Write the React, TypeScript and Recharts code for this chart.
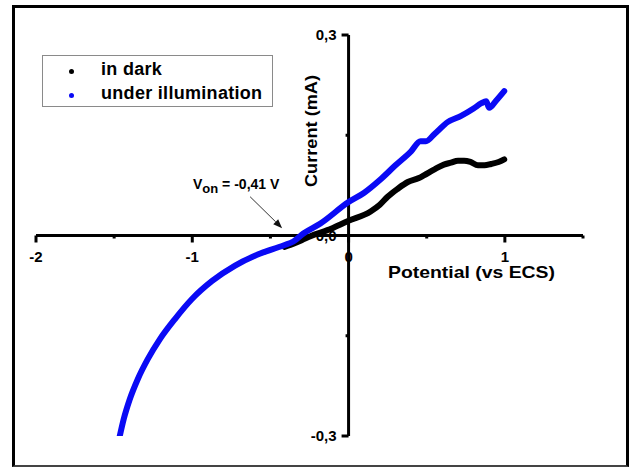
import { LineChart, Line, XAxis, YAxis, ReferenceLine, ReferenceDot, Legend } from 'recharts'

// potential (V vs ECS) and current (mA)
const darkV = [-0.41, -0.373, -0.3, -0.244, -0.135, 0, 0.141, 0.2, 0.25, 0.315, 0.379, 0.45, 0.482, 0.55, 0.61, 0.655, 0.7, 0.739, 0.78, 0.828, 0.87, 0.912, 0.96, 0.996]
const darkI = [-0.017, -0.014, -0.007, -0.001, 0.008, 0.022, 0.036, 0.046, 0.058, 0.07, 0.08, 0.086, 0.09, 0.099, 0.106, 0.109, 0.112, 0.112, 0.11, 0.105, 0.105, 0.107, 0.11, 0.114]

const lightV = [-1.464, -1.439, -1.4, -1.349, -1.285, -1.207, -1.111, -1.002, -0.873, -0.726, -0.565, -0.417, -0.353, -0.289, -0.18, 0, 0.1, 0.2, 0.3, 0.4, 0.46, 0.495, 0.55, 0.636, 0.72, 0.8, 0.85, 0.88, 0.9, 0.945, 0.996]
const lightI = [-0.3, -0.275, -0.245, -0.215, -0.185, -0.155, -0.125, -0.095, -0.068, -0.045, -0.027, -0.015, -0.009, 0.003, 0.018, 0.05, 0.064, 0.083, 0.105, 0.126, 0.141, 0.141, 0.152, 0.17, 0.179, 0.19, 0.198, 0.201, 0.191, 0.202, 0.216]

const xMajorTicks = [-2, -1, 0, 1]
const xTickLabels = ['-2', '-1', '0', '1']
const xMinorTicks = [-1.5, -0.5, 0.5, 1.5]
const yMajorTicks = [0.3, 0, -0.3]
const yTickLabels = ['0,3', '0,0', '-0,3']
const yMinorTicks = [0.15, -0.15]

// arrow pointing at the onset potential
const arrowFrom = { x: -0.63, y: 0.058 }
const arrowTo = { x: -0.425, y: 0.011 }

const darkData = darkV.map((v, k) => ({ v, i: darkI[k] }))
const lightData = lightV.map((v, k) => ({ v, i: lightI[k] }))

const FONT = 'Arial, "Liberation Sans", sans-serif'
const BLUE = '#0a0af5'

const xTick = (label: string | null, major: boolean) => (p: any) => (
  <g>
    <line x1={p.cx} y1={p.cy} x2={p.cx} y2={p.cy + (major ? 7 : 3)} stroke="#000" strokeWidth={3} />
    {label && (
      <text x={p.cx} y={p.cy + 26} textAnchor="middle" fontFamily={FONT} fontWeight="bold" fontSize={15} fill="#000">
        {label}
      </text>
    )}
  </g>
)

const yTick = (label: string | null, major: boolean) => (p: any) => (
  <g>
    <line x1={p.cx - (major ? 7 : 3)} y1={p.cy} x2={p.cx} y2={p.cy} stroke="#000" strokeWidth={3} />
    {label && (
      <text x={p.cx - 12} y={p.cy + 5} textAnchor="end" fontFamily={FONT} fontWeight="bold" fontSize={15} fill="#000">
        {label}
      </text>
    )}
  </g>
)

const Arrow = (p: any) => {
  const dx = p.x2 - p.x1
  const dy = p.y2 - p.y1
  const len = Math.sqrt(dx * dx + dy * dy)
  const ux = dx / len
  const uy = dy / len
  const bx = p.x2 - ux * 9
  const by = p.y2 - uy * 9
  return (
    <g>
      <line x1={p.x1} y1={p.y1} x2={bx} y2={by} stroke="#333" strokeWidth={1} />
      <polygon
        points={`${p.x2},${p.y2} ${bx - uy * 3.5},${by + ux * 3.5} ${bx + uy * 3.5},${by - ux * 3.5}`}
        fill="#111"
      />
    </g>
  )
}

const renderLegend = (props: any) => (
  <div
    style={{
      position: 'relative',
      width: 231,
      height: 52,
      boxSizing: 'border-box',
      border: '1px solid #8a8a8a',
      background: '#fff',
      fontFamily: FONT,
    }}
  >
    {(props.payload || []).map((e: any, k: number) => (
      <div key={e.value} style={{ position: 'absolute', left: 0, top: 3 + k * 24, height: 22 }}>
        <span style={{ position: 'absolute', left: 26, top: 10, width: 5, height: 5, borderRadius: 3, background: e.color }} />
        <span style={{ position: 'absolute', left: 58, top: 0, fontWeight: 'bold', fontSize: 18, letterSpacing: 0.3, whiteSpace: 'nowrap', color: '#000' }}>
          {e.value}
        </span>
      </div>
    ))}
  </div>
)

export default function App() {
  return (
    <div style={{ position: 'absolute', left: 0, top: 0, width: 633, height: 471, background: '#fff', fontFamily: FONT }}>
      <div
        style={{
          position: 'absolute',
          left: 12,
          top: 5,
          width: 617,
          height: 462,
          boxSizing: 'border-box',
          borderTop: '3px solid #000',
          borderLeft: '3px solid #000',
          borderRight: '3px solid #000',
          borderBottom: '2px solid #444',
        }}
      />
      <LineChart width={633} height={471} margin={{ top: 35, right: 50, bottom: 35, left: 36 }} style={{ position: 'absolute', left: 0, top: 0 }}>
        <XAxis type="number" dataKey="v" domain={[-2, 1.5]} hide allowDataOverflow />
        <YAxis type="number" dataKey="i" domain={[-0.3, 0.3]} hide allowDataOverflow />
        <ReferenceLine y={0} stroke="#000" strokeWidth={3} />
        <ReferenceLine x={0} stroke="#000" strokeWidth={3} />
        {xMajorTicks.map((t, k) => (
          <ReferenceDot key={'xm' + t} x={t} y={0} r={0} shape={xTick(xTickLabels[k], true)} />
        ))}
        {xMinorTicks.map((t) => (
          <ReferenceDot key={'xn' + t} x={t} y={0} r={0} shape={xTick(null, false)} />
        ))}
        {yMajorTicks.map((t, k) => (
          <ReferenceDot key={'ym' + t} x={0} y={t} r={0} shape={yTick(yTickLabels[k], true)} />
        ))}
        {yMinorTicks.map((t) => (
          <ReferenceDot key={'yn' + t} x={0} y={t} r={0} shape={yTick(null, false)} />
        ))}
        <ReferenceLine segment={[arrowFrom, arrowTo]} shape={Arrow} />
        <Line
          data={darkData}
          dataKey="i"
          name="in dark"
          type="monotone"
          stroke="#000"
          strokeWidth={6}
          strokeLinecap="round"
          dot={false}
          isAnimationActive={false}
        />
        <Line
          data={lightData}
          dataKey="i"
          name="under illumination"
          type="monotone"
          stroke={BLUE}
          strokeWidth={6}
          strokeLinecap="round"
          dot={false}
          isAnimationActive={false}
        />
        <Legend
          layout="vertical"
          align="center"
          verticalAlign="middle"
          content={renderLegend}
          wrapperStyle={{ position: 'absolute', left: 42, top: 55, width: 231, height: 52 }}
        />
      </LineChart>
      <svg width={633} height={471} style={{ position: 'absolute', left: 0, top: 0, pointerEvents: 'none' }}>
        <text x={388} y={278} fontFamily={FONT} fontWeight="bold" fontSize={17} textLength={167} lengthAdjust="spacingAndGlyphs">
          Potential (vs ECS)
        </text>
        <text
          transform="translate(317,131) rotate(-90)"
          textAnchor="middle"
          fontFamily={FONT}
          fontWeight="bold"
          fontSize={17}
          textLength={112}
          lengthAdjust="spacingAndGlyphs"
        >
          Current (mA)
        </text>
        <text x={193} y={189} fontFamily={FONT} fontWeight="bold" fontSize={14}>
          V
          <tspan dy={4} fontSize={13}>on</tspan>
          <tspan dy={-4}> = -0,41 V</tspan>
        </text>
      </svg>
    </div>
  )
}
